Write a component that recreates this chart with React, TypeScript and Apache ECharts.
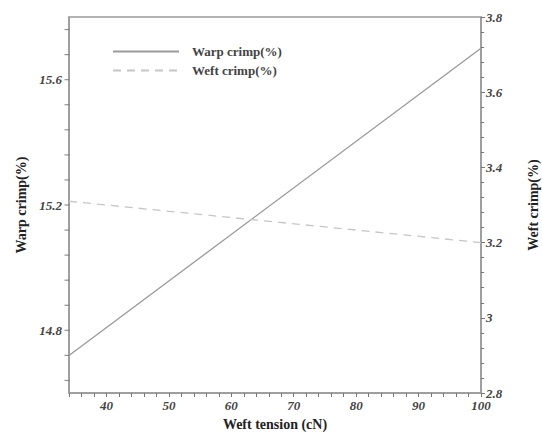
import React, { useEffect, useRef } from "react";
import * as echarts from "echarts";

const tension = [34, 100];
const warpCrimp = [14.72, 15.7];
const weftCrimp = [3.31, 3.2];

const xLabels = [40, 50, 60, 70, 80, 90, 100];
const leftLabels = [14.8, 15.2, 15.6];
const leftTicks = [
  14.64, 14.72, 14.8, 14.88, 14.96, 15.04, 15.12, 15.2, 15.28, 15.36, 15.44,
  15.52, 15.6, 15.68, 15.76,
];

const tickFont = {
  fontFamily: "Liberation Serif",
  fontStyle: "italic" as const,
  fontWeight: "bold" as const,
  fontSize: 13,
  color: "#444",
};
const nameFont = {
  fontFamily: "Liberation Serif",
  fontWeight: "bold" as const,
  fontSize: 14,
  color: "#222",
};
const axisCol = "#999";
const tickCol = "#777";

export default function App() {
  const ref = useRef<HTMLDivElement>(null);
  useEffect(() => {
    if (!ref.current) return;
    const chart = echarts.init(ref.current, null, { renderer: "svg" });
    chart.setOption({
      animation: false,
      backgroundColor: "#fff",
      grid: {
        left: 69,
        right: 61,
        top: 17,
        bottom: 41,
        show: true,
        borderColor: axisCol,
        borderWidth: 1.5,
        containLabel: false,
        outerBoundsMode: "none",
      },
      legend: {
        left: 107,
        top: 40,
        orient: "vertical",
        itemWidth: 66,
        itemHeight: 12,
        itemGap: 6,
        itemStyle: { opacity: 0 },
        textStyle: { fontFamily: "Liberation Serif", fontWeight: "bold", fontSize: 13, color: "#444", padding: [0, 0, 0, 8] },
        data: ["Warp crimp(%)", "Weft crimp(%)"],
      },
      xAxis: {
        type: "value",
        min: 34,
        max: 100,
        interval: 2,
        name: "Weft tension (cN)",
        nameLocation: "middle",
        nameGap: 24,
        nameTextStyle: nameFont,
        splitLine: { show: false },
        axisLine: { lineStyle: { color: axisCol, width: 1.5 } },
        axisTick: { length: 4, lineStyle: { color: tickCol } },
        axisLabel: { ...tickFont, margin: 6, customValues: xLabels },
      },
      yAxis: [
        {
          type: "value",
          position: "left",
          min: 14.6,
          max: 15.8,
          name: "Warp crimp(%)",
          nameLocation: "middle",
          nameGap: 40,
          nameTextStyle: nameFont,
          splitLine: { show: false },
          axisLine: { show: true, lineStyle: { color: axisCol, width: 1.5 } },
          axisTick: { show: false },
          axisLabel: { ...tickFont, margin: 7, customValues: leftLabels, formatter: (v: number) => v.toFixed(1) },
        },
        {
          type: "value",
          position: "right",
          min: 2.8,
          max: 3.8,
          interval: 0.2,
          name: "Weft crimp(%)",
          nameLocation: "middle",
          nameGap: 45,
          nameRotate: 90,
          nameTextStyle: nameFont,
          splitLine: { show: false },
          axisLine: { show: true, lineStyle: { color: axisCol, width: 1.5 } },
          axisTick: { show: true, length: 4, lineStyle: { color: tickCol } },
          minorTick: { show: true, splitNumber: 5, length: 3, lineStyle: { color: tickCol } },
          axisLabel: { ...tickFont, margin: 5, formatter: (v: number) => String(Number(v.toFixed(1))) },
        },
      ],
      series: [
        {
          name: "Warp crimp(%)",
          type: "line",
          yAxisIndex: 0,
          symbol: "none",
          data: tension.map((x, i) => [x, warpCrimp[i]]),
          lineStyle: { color: "#9a9a9a", width: 1.3 },
          itemStyle: { color: "#9a9a9a" },
        },
        {
          name: "Weft crimp(%)",
          type: "line",
          yAxisIndex: 1,
          symbol: "none",
          data: tension.map((x, i) => [x, weftCrimp[i]]),
          lineStyle: { color: "#c6c6c6", width: 1.3, type: [8, 6] },
          itemStyle: { color: "#c6c6c6" },
        },
        {
          name: "leftTicks",
          type: "scatter",
          yAxisIndex: 0,
          silent: true,
          clip: false,
          symbol: "rect",
          symbolSize: [5, 1.2],
          symbolOffset: [-2, 0],
          itemStyle: { color: tickCol },
          data: leftTicks.map((v) => [tension[0], v]),
        },
      ],
    });
    return () => chart.dispose();
  }, []);
  return <div ref={ref} style={{ width: 542, height: 434, position: "absolute", left: 0, top: 0 }} />;
}
